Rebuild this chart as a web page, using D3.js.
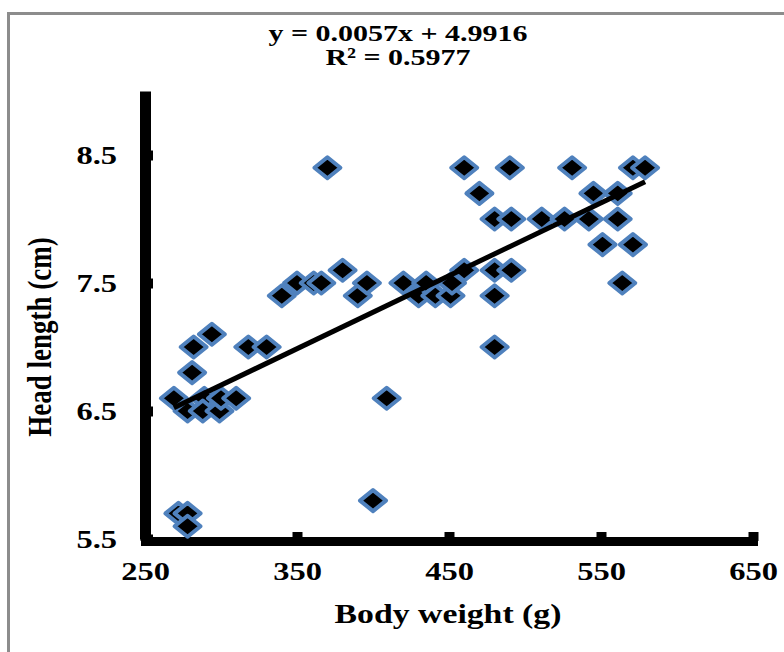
<!DOCTYPE html>
<html>
<head>
<meta charset="utf-8">
<script src="https://cdn.jsdelivr.net/npm/d3@7"></script>
<style>
  body { margin: 0; background: #fff; }
  text { font-family: "Liberation Serif", "Times New Roman", serif; font-weight: bold; fill: #000; }
</style>
</head>
<body>
<div id="chart"></div>
<script>
// data
var bodyWeight = [269, 278, 289, 288, 299, 300, 310, 281, 282, 294, 318, 330,
                  272, 278, 278, 340, 350, 361, 366, 370, 380, 390, 396, 400,
                  409, 420, 430, 435, 441, 451, 452, 460, 460, 470, 480, 480,
                  480, 480, 490, 491, 491, 511, 526, 531, 542, 545, 551, 561,
                  561, 564, 571, 571, 579];
var headLength = [6.6, 6.5, 6.6, 6.5, 6.5, 6.6, 6.6, 6.8, 7.0, 7.1, 7.0, 7.0,
                  5.7, 5.7, 5.6, 7.4, 7.5, 7.5, 7.5, 8.4, 7.6, 7.4, 7.5, 5.8,
                  6.6, 7.5, 7.4, 7.5, 7.4, 7.4, 7.5, 7.6, 8.4, 8.2, 8.0, 7.6,
                  7.4, 7.0, 8.4, 8.0, 7.6, 8.0, 8.0, 8.4, 8.0, 8.2, 7.8, 8.2,
                  8.0, 7.5, 7.8, 8.4, 8.4];
var xTicks = [250, 350, 450, 550, 650];
var yTicks = [5.5, 6.5, 7.5, 8.5];
var slope = 0.0057, intercept = 4.9916;
var equationLines = ["y = 0.0057x + 4.9916", "R² = 0.5977"];

var width = 784, height = 652;
var sx = 1.25; // picture is stretched sideways

var svg = d3.select("#chart")
  .append("svg")
    .attr("width", width)
    .attr("height", height);

// grey frame
svg.append("rect")
  .attr("x", 8.5)
  .attr("y", 13.5)
  .attr("width", 800)
  .attr("height", 700)
  .attr("fill", "#fff")
  .attr("stroke", "#8c8c8c")
  .attr("stroke-width", 3);

var x = d3.scaleLinear().domain([250, 650]).range([145, 753]);
var y = d3.scaleLinear().domain([5.5, 9.0]).range([539, 91]);

// y axis
var yAxis = svg.append("g")
  .attr("transform", "translate(" + x(250) + ",0)")
  .call(d3.axisLeft(y).tickValues(yTicks).tickFormat(d3.format(".1f"))
        .tickSizeInner(-8).tickSizeOuter(0).tickPadding(28 / sx));
yAxis.select(".domain").attr("stroke-width", 11);
yAxis.selectAll(".tick line").attr("stroke-width", 10);
yAxis.selectAll(".tick text")
  .attr("transform", "scale(" + sx + ",1)")
  .attr("font-size", 26)
  .attr("dy", "0.34em");

// x axis
var xAxis = svg.append("g")
  .attr("transform", "translate(0," + 541 + ")")
  .call(d3.axisBottom(x).tickValues(xTicks)
        .tickSizeInner(-9).tickSizeOuter(0).tickPadding(21));
xAxis.select(".domain").attr("stroke-width", 9).attr("stroke-linecap", "square");
xAxis.selectAll(".tick line").attr("stroke-width", 10);
xAxis.selectAll(".tick text")
  .attr("transform", "scale(" + sx + ",1)")
  .attr("font-size", 26);

// diamonds
var diamond = "M0,-10.5L13,0L0,10.5L-13,0Z";
svg.selectAll("myDots")
  .data(bodyWeight)
  .enter()
  .append("path")
    .attr("d", diamond)
    .attr("transform", function(d, i) { return "translate(" + x(d) + "," + y(headLength[i]) + ")"; })
    .attr("fill", "#000")
    .attr("stroke", "#4f81bd")
    .attr("stroke-width", 4)
    .attr("stroke-linejoin", "round");

// linear trendline
var xs = d3.extent(bodyWeight);
var line = d3.line()
  .x(function(d) { return x(d) })
  .y(function(d) { return y(slope * d + intercept) });
svg.append("path")
  .attr("d", line(xs))
  .attr("stroke", "#000")
  .attr("stroke-width", 5)
  .attr("fill", "none");

// equation
svg.selectAll("eqLines")
  .data(equationLines)
  .enter()
  .append("text")
    .attr("transform", function(d, i) { return "translate(398," + (41 + i * 24) + ") scale(" + sx + ",1)"; })
    .attr("text-anchor", "middle")
    .attr("font-size", 24)
    .text(function(d) { return d; });

// axis titles
svg.append("text")
  .attr("transform", "translate(448,623) scale(" + sx + ",1)")
  .attr("text-anchor", "middle")
  .attr("font-size", 27)
  .text("Body weight (g)");

svg.append("text")
  .attr("transform", "translate(51,337) scale(" + sx + ",1) rotate(-90)")
  .attr("text-anchor", "middle")
  .attr("font-size", 27)
  .text("Head length (cm)");
</script>
</body>
</html>
